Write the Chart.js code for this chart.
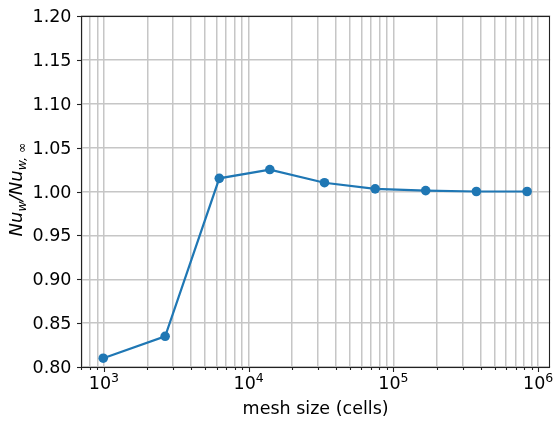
<!DOCTYPE html>
<html>
<head>
<meta charset="utf-8">
<script src="https://cdn.jsdelivr.net/npm/chart.js@4.4.0/dist/chart.umd.min.js"></script>
<style>
html,body{margin:0;padding:0;background:#fff;}
#wrap{width:555px;height:422px;position:relative;}
</style>
</head>
<body>
<div id="wrap"><canvas id="c" width="555" height="422"></canvas></div>
<script>
// Data
const meshSize = [990, 2650, 6270, 14000, 33400, 74800, 167000, 374000, 838000];
const nuRatio  = [0.810, 0.835, 1.015, 1.025, 1.010, 1.003, 1.001, 1.000, 1.000];
const yTicks = [0.80, 0.85, 0.90, 0.95, 1.00, 1.05, 1.10, 1.15, 1.20];
const yTickLabels = ['0.80', '0.85', '0.90', '0.95', '1.00', '1.05', '1.10', '1.15', '1.20'];
const xDecades = [1e3, 1e4, 1e5, 1e6];
const xDecadeBase = '10';
const xDecadeExponents = ['3', '4', '5', '6'];
const xTitle = 'mesh size (cells)';
const xMin = 695, xMax = 1.21e6;

const FONT = 'DejaVu Sans';
const points = meshSize.map((x, i) => ({x: x, y: nuRatio[i]}));

function allLogTicks() {
  const t = [];
  for (let e = 2; e <= 6; e++) {
    for (let m = 1; m <= 9; m++) {
      const v = m * Math.pow(10, e);
      if (v >= xMin && v <= xMax) t.push({value: v, major: m === 1});
    }
  }
  return t;
}

const framePlugin = {
  id: 'frame',
  afterDraw(chart) {
    const ctx = chart.ctx, a = chart.chartArea;
    const xs = chart.scales.x, ys = chart.scales.y;
    ctx.save();
    ctx.strokeStyle = '#222';
    ctx.lineWidth = 1.1;
    const L = Math.round(a.left) + 0.5, T = Math.round(a.top) + 0.5;
    const R = Math.round(a.right) - 0.5, B = Math.round(a.bottom) + 0.5;
    ctx.strokeRect(L, T, R - L, B - T);
    // x tick marks
    xs.ticks.forEach(t => {
      const px = Math.round(xs.getPixelForValue(t.value)) + 0.5;
      const len = t.major ? 4.5 : 2.5;
      ctx.beginPath();
      ctx.moveTo(px, B);
      ctx.lineTo(px, B + len);
      ctx.stroke();
    });
    // y tick marks and labels
    ctx.fillStyle = '#000';
    ctx.font = '17.5px "' + FONT + '"';
    ctx.textAlign = 'right';
    ctx.textBaseline = 'middle';
    yTicks.forEach((v, i) => {
      const py = Math.round(ys.getPixelForValue(v)) + 0.5;
      ctx.beginPath();
      ctx.moveTo(L, py);
      ctx.lineTo(L - 4.5, py);
      ctx.stroke();
      ctx.fillText(yTickLabels[i], 71.5, py + 0.5);
    });
    ctx.textAlign = 'left';
    // x decade labels with superscript exponent
    ctx.textBaseline = 'alphabetic';
    xDecades.forEach((d, i) => {
      const px = xs.getPixelForValue(d);
      ctx.font = '17.5px "' + FONT + '"';
      const wb = ctx.measureText(xDecadeBase).width;
      ctx.font = '12.5px "' + FONT + '"';
      const we = ctx.measureText(xDecadeExponents[i]).width;
      const x0 = px - (wb + we) / 2;
      ctx.font = '17.5px "' + FONT + '"';
      ctx.fillText(xDecadeBase, x0, 388.5);
      ctx.font = '12.5px "' + FONT + '"';
      ctx.fillText(xDecadeExponents[i], x0 + wb, 381.5);
    });
    // x title
    ctx.font = '17.5px "' + FONT + '"';
    ctx.textAlign = 'center';
    ctx.fillText(xTitle, (a.left + a.right) / 2, 413.5);
    ctx.textAlign = 'left';
    // y axis label with subscripts
    const cy = (a.top + a.bottom) / 2 - 2;
    ctx.translate(22, cy);
    ctx.rotate(-Math.PI / 2);
    const big = 'italic 18px "' + FONT + '"';
    const small = 'italic 12.5px "' + FONT + '"';
    const parts = [
      {t: 'Nu', f: big, dy: 0},
      {t: 'w', f: small, dy: 4},
      {t: '/Nu', f: big, dy: 0},
      {t: 'w, ∞', f: small, dy: 4}
    ];
    let total = 0;
    parts.forEach(p => { ctx.font = p.f; p.w = ctx.measureText(p.t).width; total += p.w; });
    let x = -total / 2;
    parts.forEach(p => { ctx.font = p.f; ctx.fillText(p.t, x, p.dy); x += p.w; });
    ctx.restore();
  }
};

new Chart(document.getElementById('c'), {
  type: 'line',
  data: {
    datasets: [{
      data: points,
      borderColor: '#1f77b4',
      backgroundColor: '#1f77b4',
      borderWidth: 2.2,
      pointRadius: 4.8,
      pointHoverRadius: 4.8,
      pointBorderWidth: 0,
      tension: 0,
      fill: false
    }]
  },
  options: {
    responsive: false,
    animation: false,
    events: [],
    layout: {padding: {top: 16, right: 3, left: 0, bottom: 0}},
    plugins: {legend: {display: false}, tooltip: {enabled: false}},
    scales: {
      x: {
        type: 'logarithmic',
        min: xMin, max: xMax,
        afterBuildTicks(scale) { scale.ticks = allLogTicks(); },
        afterFit(scale) { scale.height = 55; },
        grid: {color: '#c6c6c6', lineWidth: 1.5, drawTicks: false},
        border: {display: false},
        ticks: {display: false, autoSkip: false, maxRotation: 0, minRotation: 0}
      },
      y: {
        type: 'linear',
        min: 0.8, max: 1.2,
        afterBuildTicks(scale) { scale.ticks = yTicks.map(v => ({value: v})); },
        afterFit(scale) { scale.width = 81; },
        grid: {color: '#c6c6c6', lineWidth: 1.5, drawTicks: false},
        border: {display: false},
        ticks: {display: false}
      }
    }
  },
  plugins: [framePlugin]
});
</script>
</body>
</html>
